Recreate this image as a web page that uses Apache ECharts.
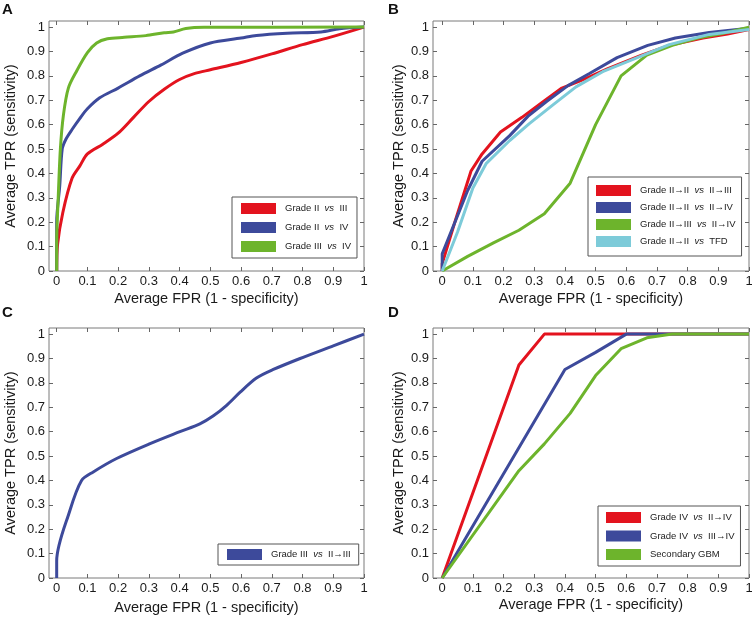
<!DOCTYPE html>
<html>
<head>
<meta charset="utf-8">
<script src="https://cdn.jsdelivr.net/npm/echarts@6.0.0/dist/echarts.min.js"></script>
<style>
html,body{margin:0;padding:0;background:#fff;}
#main{width:752px;height:617px;}
</style>
</head>
<body>
<div id="main"></div>
<script>
// tick positions shared by all four panels
var xTicks = [0, 0.1, 0.2, 0.3, 0.4, 0.5, 0.6, 0.7, 0.8, 0.9, 1];
var yTicks = [0, 0.1, 0.2, 0.3, 0.4, 0.5, 0.6, 0.7, 0.8, 0.9, 1];

// panel A
var aNames = ['Grade II vs III', 'Grade II vs IV', 'Grade III vs IV'];
var aRed = [[0,0],[0.003,0.11],[0.02,0.24],[0.05,0.38],[0.075,0.43],[0.1,0.48],[0.15,0.52],[0.2,0.565],[0.25,0.63],[0.3,0.695],[0.35,0.745],[0.4,0.785],[0.45,0.81],[0.5,0.825],[0.6,0.855],[0.7,0.89],[0.8,0.928],[0.9,0.962],[1,1]];
var aBlue = [[0,0],[0,0.2],[0.01,0.35],[0.018,0.5],[0.03,0.54],[0.05,0.58],[0.075,0.625],[0.1,0.665],[0.14,0.71],[0.2,0.75],[0.27,0.8],[0.34,0.845],[0.41,0.893],[0.5,0.935],[0.6,0.955],[0.65,0.966],[0.75,0.975],[0.86,0.98],[0.92,0.993],[1,1]];
var aGreen = [[0,0],[0,0.12],[0.005,0.3],[0.012,0.5],[0.022,0.64],[0.038,0.75],[0.065,0.82],[0.1,0.895],[0.13,0.935],[0.165,0.952],[0.22,0.958],[0.29,0.965],[0.35,0.977],[0.38,0.98],[0.42,0.994],[0.48,0.999],[1,1]];

// panel B
var bNames = ['Grade II\u2192II vs II\u2192III', 'Grade II\u2192II vs II\u2192IV', 'Grade II\u2192III vs II\u2192IV', 'Grade II\u2192II vs TFD'];
var bRed = [[0,0],[0,0.03],[0.046,0.22],[0.094,0.41],[0.13,0.48],[0.19,0.57],[0.26,0.63],[0.33,0.695],[0.39,0.75],[0.46,0.785],[0.54,0.83],[0.65,0.885],[0.74,0.925],[0.85,0.955],[0.93,0.972],[1,0.99]];
var bBlue = [[0,0],[0,0.07],[0.083,0.33],[0.13,0.45],[0.22,0.555],[0.28,0.635],[0.34,0.695],[0.41,0.76],[0.48,0.81],[0.57,0.875],[0.67,0.925],[0.76,0.955],[0.87,0.978],[1,0.995]];
var bGreen = [[0,0],[0.083,0.06],[0.167,0.115],[0.25,0.167],[0.333,0.235],[0.417,0.36],[0.5,0.6],[0.583,0.8],[0.667,0.885],[0.75,0.925],[0.833,0.955],[0.917,0.975],[1,1]];
var bCyan = [[0,0],[0.05,0.16],[0.1,0.34],[0.143,0.44],[0.22,0.535],[0.284,0.604],[0.36,0.68],[0.436,0.755],[0.523,0.817],[0.63,0.872],[0.74,0.928],[0.87,0.97],[1,0.99]];

// panel C
var cNames = ['Grade III vs II\u2192III'];
var cBlue = [[0,0],[0,0.07],[0.043,0.277],[0.081,0.40],[0.119,0.435],[0.195,0.49],[0.304,0.551],[0.401,0.6],[0.466,0.632],[0.51,0.665],[0.553,0.708],[0.597,0.762],[0.65,0.82],[0.705,0.855],[0.792,0.9],[0.9,0.952],[1,1]];

// panel D
var dNames = ['Grade IV vs II\u2192IV', 'Grade IV vs III\u2192IV', 'Secondary GBM'];
var dRed = [[0,0],[0.25,0.873],[0.333,1],[1,1]];
var dBlue = [[0,0],[0.4,0.855],[0.5,0.925],[0.6,1],[1,1]];
var dGreen = [[0,0],[0.25,0.44],[0.333,0.55],[0.417,0.675],[0.5,0.83],[0.583,0.94],[0.667,0.985],[0.75,1],[1,1]];

var RED = '#e3131e', BLUE = '#3d4a9b', GREEN = '#6db42c', CYAN = '#7dcbd9';
var FONT = '"Liberation Sans", Arial, Helvetica, sans-serif';

var panels = [
    {letter:'A', lx:2, ly:2, grid:{left:49, top:21, width:315, height:250}, xMin:-0.025, yGap:31, xGap:20,
     lines:[[aNames[0], aRed, RED], [aNames[1], aBlue, BLUE], [aNames[2], aGreen, GREEN]], smooth:0.3,
     legend:{left:232, top:197, itemGap:8, padding:[6,6,6,9]}},
    {letter:'B', lx:388, ly:2, grid:{left:433, top:21, width:316, height:250}, xMin:-0.03, yGap:27, xGap:20,
     lines:[[bNames[0], bRed, RED], [bNames[1], bBlue, BLUE], [bNames[2], bGreen, GREEN], [bNames[3], bCyan, CYAN]], smooth:false,
     legend:{left:588, top:177, itemGap:6, padding:[8,6,9,8]}},
    {letter:'C', lx:2, ly:305, grid:{left:49, top:328, width:315, height:250}, xMin:-0.025, yGap:31, xGap:22,
     lines:[[cNames[0], cBlue, BLUE]], smooth:0.3,
     legend:{left:218, top:544, itemGap:6, padding:[5,8,5,9]}},
    {letter:'D', lx:388, ly:305, grid:{left:433, top:328, width:316, height:250}, xMin:-0.03, yGap:27, xGap:19,
     lines:[[dNames[0], dRed, RED], [dNames[1], dBlue, BLUE], [dNames[2], dGreen, GREEN]], smooth:false,
     legend:{left:598, top:506, itemGap:7.5, padding:[6,6,6,8]}}
];

function tickLabel(v) {
    return String(Math.round(v * 10) / 10);
}

var option = {
    animation: false,
    backgroundColor: '#fff',
    title: [], grid: [], xAxis: [], yAxis: [], legend: [], series: []
};

panels.forEach(function (p, i) {
    option.title.push({
        text: p.letter, left: p.lx, top: p.ly, padding: 0,
        textStyle: {fontSize: 15, fontWeight: 'bold', color: '#111', fontFamily: FONT}
    });
    option.grid.push(Object.assign({
        show: true, borderColor: '#7a7a7a', borderWidth: 1, outerBoundsMode: 'none', containLabel: false
    }, p.grid));

    var tick = {show: true, inside: true, length: 4, lineStyle: {color: '#666', width: 1}};
    var line = {show: false, onZero: false};
    // bottom / top x axes
    option.xAxis.push({
        gridIndex: i, type: 'value', min: p.xMin, max: 1, position: 'bottom',
        name: 'Average FPR (1 - specificity)', nameLocation: 'middle', nameGap: p.xGap,
        nameTextStyle: {fontSize: 14.5, color: '#1a1a1a', fontFamily: FONT},
        axisLine: line, splitLine: {show: false},
        axisTick: Object.assign({customValues: xTicks}, tick),
        axisLabel: {customValues: xTicks, formatter: tickLabel, margin: 4, fontSize: 13, color: '#1a1a1a', fontFamily: FONT}
    });
    option.xAxis.push({
        gridIndex: i, type: 'value', min: p.xMin, max: 1, position: 'top',
        axisLine: line, splitLine: {show: false},
        axisTick: Object.assign({customValues: xTicks}, tick),
        axisLabel: {show: false}
    });
    // left / right y axes
    option.yAxis.push({
        gridIndex: i, type: 'value', min: 0, max: 1.025, position: 'left',
        name: 'Average TPR (sensitivity)', nameLocation: 'middle', nameGap: p.yGap,
        nameTextStyle: {fontSize: 14.5, color: '#1a1a1a', fontFamily: FONT},
        axisLine: line, splitLine: {show: false},
        axisTick: Object.assign({customValues: yTicks}, tick),
        axisLabel: {customValues: yTicks, formatter: tickLabel, margin: 4, fontSize: 13, color: '#1a1a1a', fontFamily: FONT}
    });
    option.yAxis.push({
        gridIndex: i, type: 'value', min: 0, max: 1.025, position: 'right',
        axisLine: line, splitLine: {show: false},
        axisTick: Object.assign({customValues: yTicks}, tick),
        axisLabel: {show: false}
    });

    var names = [];
    p.lines.forEach(function (l) {
        names.push(l[0]);
        option.series.push({
            name: l[0], type: 'line', xAxisIndex: 2 * i, yAxisIndex: 2 * i,
            data: l[1], symbol: 'none', smooth: p.smooth, clip: true,
            color: l[2], lineStyle: {color: l[2], width: 3}
        });
    });

    option.legend.push({
        orient: 'vertical', left: p.legend.left, top: p.legend.top,
        data: names, icon: 'rect', itemWidth: 35, itemHeight: 11, itemGap: p.legend.itemGap,
        padding: p.legend.padding, borderColor: '#555', borderWidth: 1, backgroundColor: '#fff',
        selectedMode: false,
        formatter: function (name) {
            return name.replace(' vs ', '  {i|vs}  ');
        },
        textStyle: {
            fontSize: 9.5, color: '#222', fontFamily: FONT, padding: [0, 0, 0, 4],
            rich: {i: {fontSize: 9.5, fontStyle: 'italic', color: '#222', fontFamily: FONT}}
        }
    });
});

var myChart = echarts.init(document.getElementById('main'));
myChart.setOption(option);
</script>
</body>
</html>
